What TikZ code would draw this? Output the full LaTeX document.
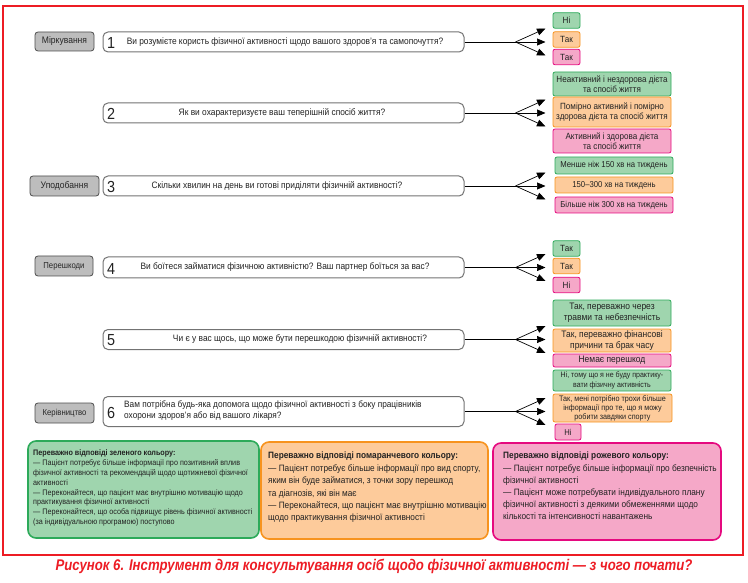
\documentclass[tikz,border=0pt]{standalone}
\usepackage{fontspec}
\setmainfont{Liberation Sans}[FakeStretch=0.9]
\newfontfamily\capfont{Liberation Sans}[FakeStretch=0.85]
\usetikzlibrary{arrows.meta}
\definecolor{gfill}{HTML}{9FD5AE}
\definecolor{gline}{HTML}{2DAA5A}
\definecolor{ofill}{HTML}{FDCB9B}
\definecolor{oline}{HTML}{F7931E}
\definecolor{pfill}{HTML}{F5A8C8}
\definecolor{pline}{HTML}{E5097F}
\definecolor{catfill}{HTML}{BDBDBD}
\definecolor{framered}{HTML}{ED1C24}
\definecolor{txt}{HTML}{222222}
\tikzset{
  cat/.style={draw=black!70, fill=catfill, rounded corners=3pt, line width=0.8pt, inner sep=0, font=\fontsize{9.5}{10}\selectfont, text=black!85},
  qbox/.style={draw=black!55, fill=white, rounded corners=5pt, line width=1pt, minimum width=361pt, inner sep=0},
  qnum/.style={font=\fontsize{16}{16}\selectfont, anchor=west, inner sep=0, text=txt},
  qtext/.style={font=\fontsize{9.3}{11}\selectfont, inner sep=0, text=txt},
  ans/.style={rounded corners=2pt, line width=0.8pt, inner sep=0, align=center, font=\fontsize{9}{10.5}\selectfont, text=txt},
  gans/.style={ans, draw=gline, fill=gfill},
  oans/.style={ans, draw=oline, fill=ofill},
  pans/.style={ans, draw=pline, fill=pfill},
  arr/.style={-{Triangle[length=8.5pt,width=7pt]}, line width=0.7pt},
  link/.style={line width=0.7pt},
  bigbox/.style={rounded corners=8pt, line width=1.6pt, inner sep=0},
  bigtext/.style={anchor=north west, align=left, inner sep=0, text=txt}
}
\begin{document}
\begin{tikzpicture}[x=1pt,y=-1pt]
\useasboundingbox (0,0) rectangle (748,583);
\draw[framered, line width=2pt] (3,6) rectangle (743,555);

% categories
\node[cat, minimum width=59pt, minimum height=19pt] (c1) at (64.5,41.5) {Міркування};
\node[cat, minimum width=69pt, minimum height=20pt] (c2) at (64.5,186) {Уподобання};
\node[cat, minimum width=58pt, minimum height=20pt, font=\fontsize{8.6}{10}\selectfont] (c3) at (64,266) {Перешкоди};
\node[cat, minimum width=59pt, minimum height=20pt, font=\fontsize{8.6}{10}\selectfont] (c4) at (64.5,413) {Керівництво};

% question boxes
\node[qbox, minimum height=20pt] (q1) at (283.5,42) {};
\node[qbox, minimum height=20pt] (q2) at (283.5,113) {};
\node[qbox, minimum height=20pt] (q3) at (283.5,186) {};
\node[qbox, minimum height=21pt] (q4) at (283.5,267.5) {};
\node[qbox, minimum height=20pt] (q5) at (283.5,339.5) {};
\node[qbox, minimum height=30pt] (q6) at (283.5,411.5) {};

\node[qnum] (n1) at (107,43) {1};
\node[qnum] (n2) at (107,114) {2};
\node[qnum] (n3) at (107,187) {3};
\node[qnum] (n4) at (107,268.5) {4};
\node[qnum] (n5) at (107,340.5) {5};
\node[qnum] (n6) at (107,412.5) {6};

\node[qtext] (t1) at (285,42) {Ви розумієте користь фізичної активності щодо вашого здоров'я та самопочуття?};
\node[qtext] (t2) at (282,113) {Як ви охарактеризуєте ваш теперішній спосіб життя?};
\node[qtext] (t3) at (277,186) {Скільки хвилин на день ви готові приділяти фізичній активності?};
\node[qtext] (t4) at (285,267.5) {Ви боїтеся займатися фізичною активністю? Ваш партнер боїться за вас?};
\node[qtext] (t5) at (300,339.5) {Чи є у вас щось, що може бути перешкодою фізичній активності?};
\node[qtext, anchor=west, align=left, font=\fontsize{9.2}{11}\selectfont] (t6) at (124,410.5) {Вам потрібна будь-яка допомога щодо фізичної активності з боку працівників\\охорони здоров'я або від вашого лікаря?};

% connectors
\foreach \i in {1,...,6}{
  \path (q\i.east) ++(51,0) coordinate (b\i);
  \path (b\i) ++(30,-13.5) coordinate (ta\i);
  \path (b\i) ++(30,0) coordinate (tb\i);
  \path (b\i) ++(30,13.5) coordinate (tc\i);
  \draw[link] (q\i.east) -- (b\i);
  \draw[arr] (b\i) -- (ta\i);
  \draw[arr] (b\i) -- (tb\i);
  \draw[arr] (b\i) -- (tc\i);
}

% answers Q1
\node[gans, minimum width=27pt, minimum height=15.5pt] (a11) at (566.5,20.5) {Ні};
\node[oans, minimum width=27pt, minimum height=15.5pt] (a12) at (566.5,39.5) {Так};
\node[pans, minimum width=27pt, minimum height=15.5pt] (a13) at (566.5,57) {Так};
% Q2
\node[gans, minimum width=118pt, minimum height=24pt] (a21) at (612,84) {Неактивний і нездорова дієта\\та спосіб життя};
\node[oans, minimum width=118pt, minimum height=30pt] (a22) at (612,112) {Помірно активний і помірно\\здорова дієта та спосіб життя};
\node[pans, minimum width=118pt, minimum height=24pt] (a23) at (612,141) {Активний і здорова дієта\\та спосіб життя};
% Q3
\node[gans, minimum width=118pt, minimum height=17pt, font=\fontsize{8.6}{10}\selectfont] (a31) at (614,165.5) {Менше ніж 150 хв на тиждень};
\node[oans, minimum width=118pt, minimum height=16pt, font=\fontsize{8.6}{10}\selectfont] (a32) at (614,185) {150–300 хв на тиждень};
\node[pans, minimum width=118pt, minimum height=16pt, font=\fontsize{8.6}{10}\selectfont] (a33) at (614,205) {Більше ніж 300 хв на тиждень};
% Q4
\node[gans, minimum width=27pt, minimum height=15.5pt] (a41) at (566.5,248.5) {Так};
\node[oans, minimum width=27pt, minimum height=15.5pt] (a42) at (566.5,266) {Так};
\node[pans, minimum width=27pt, minimum height=15.5pt] (a43) at (566.5,285) {Ні};
% Q5
\node[gans, minimum width=118pt, minimum height=26pt, font=\fontsize{9.4}{11}\selectfont] (a51) at (612,313) {Так, переважно через\\травми та небезпечність};
\node[oans, minimum width=118pt, minimum height=23pt, font=\fontsize{9.4}{10.5}\selectfont] (a52) at (612,340.5) {Так, переважно фінансові\\причини та брак часу};
\node[pans, minimum width=118pt, minimum height=13pt, font=\fontsize{9.4}{10}\selectfont] (a53) at (612,360.5) {Немає перешкод};
% Q6
\node[gans, minimum width=118pt, minimum height=21pt, font=\fontsize{7.8}{9.5}\selectfont] (a61) at (612,380.5) {Ні, тому що я не буду практику-\\вати фізичну активність};
\node[oans, minimum width=119pt, minimum height=28pt, font=\fontsize{8}{9}\selectfont] (a62) at (612.5,408) {Так, мені потрібно трохи більше\\інформації про те, що я можу\\робити завдяки спорту};
\node[pans, minimum width=26pt, minimum height=16pt, font=\fontsize{8.5}{10}\selectfont] (a63) at (568,432) {Ні};

% bottom boxes
\node[bigbox, draw=gline, fill=gfill, minimum width=231pt, minimum height=97pt] (bg) at (143.5,489.5) {};
\node[bigbox, draw=oline, fill=ofill, minimum width=227pt, minimum height=97pt] (bo) at (374.5,490.5) {};
\node[bigbox, draw=pline, fill=pfill, minimum width=228pt, minimum height=97pt] (bp) at (607,491.5) {};

\node[bigtext, font=\fontsize{8}{9.9}\selectfont] (gt) at (33,449.5) {\textbf{Переважно відповіді зеленого кольору:}\\— Пацієнт потребує більше інформації про позитивний вплив\\фізичної активності та рекомендацій щодо щотижневої фізичної\\активності\\— Переконайтеся, що пацієнт має внутрішню мотивацію щодо\\практикування фізичної активності\\— Переконайтеся, що особа підвищує рівень фізичної активності\\(за індивідуальною програмою) поступово};
\node[bigtext, font=\fontsize{9.2}{12.4}\selectfont] (ot) at (268,452) {\textbf{Переважно відповіді помаранчевого кольору:}\\— Пацієнт потребує більше інформації про вид спорту,\\яким він буде займатися, з точки зору перешкод\\та діагнозів, які він має\\— Переконайтеся, що пацієнт має внутрішню мотивацію\\щодо практикування фізичної активності};
\node[bigtext, font=\fontsize{9.2}{12.2}\selectfont] (pt) at (503,452) {\textbf{Переважно відповіді рожевого кольору:}\\— Пацієнт потребує більше інформації про безпечність\\фізичної активності\\— Пацієнт може потребувати індивідуального плану\\фізичної активності з деякими обмеженнями щодо\\кількості та інтенсивності навантажень};

% caption
\node[inner sep=0, text=framered, font={\fontsize{15.5}{16}\capfont\bfseries\itshape}] (cap) at (374,566.5) {Рисунок 6. Інструмент для консультування осіб щодо фізичної активності — з чого почати?};
\end{tikzpicture}
\end{document}
